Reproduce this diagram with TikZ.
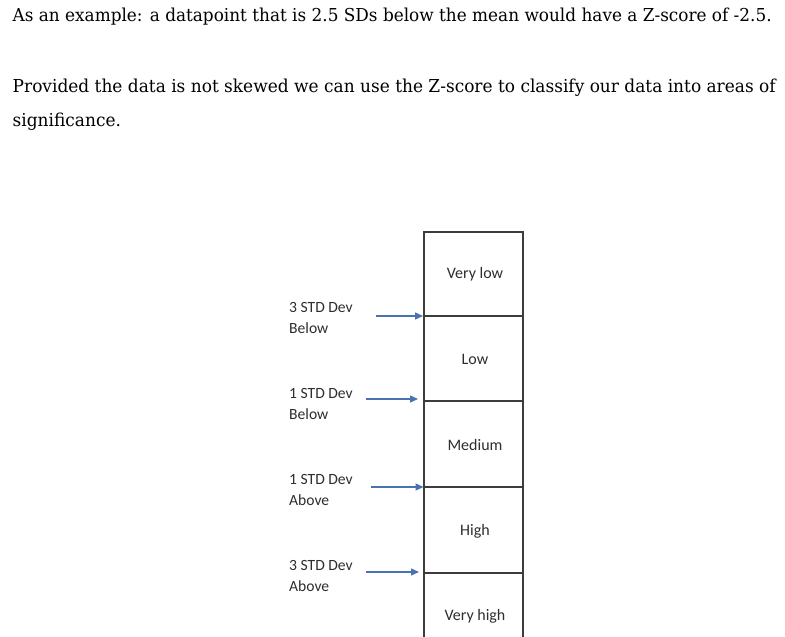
\documentclass[tikz,border=0pt]{standalone}
\usepackage{fontspec}
\usepackage{graphicx}
\setmainfont{Carlito}
\newfontfamily\topfont{DejaVu Serif}
\usetikzlibrary{arrows.meta}
\definecolor{boxline}{HTML}{3C3C3C}
\definecolor{arrowblue}{HTML}{4A72B0}
\definecolor{labelgray}{HTML}{2E2E2E}
\newlength\lineonew
\newlength\linetwow
\newcommand{\lineone}{As an example: a datapoint that is 2.5 SDs below the mean would have a Z-score of -2.5.}
\newcommand{\linetwo}{Provided the data is not skewed we can use the Z-score to classify our data into areas of}
\newcommand{\topsize}{\fontsize{17.8}{20}\selectfont}
\AtBeginDocument{%
  \settowidth\lineonew{\topfont\topsize\lineone}%
  \settowidth\linetwow{\topfont\topsize\linetwo}%
}
\tikzset{
  toptext/.style={anchor=base west, inner sep=0pt, text=black},
  devlabel/.style={anchor=base west, inner sep=0pt, align=left, text=labelgray, font=\fontsize{15.6}{20.5}\selectfont},
  celllabel/.style={inner sep=0pt, text=labelgray, font=\fontsize{16}{18}\selectfont},
  cellbox/.style={draw=boxline, line width=1.3pt},
  devarrow/.style={draw=arrowblue, line width=1.4pt, -{Triangle[length=8pt,width=7pt]}},
}
\begin{document}
\begin{tikzpicture}[x=1pt,y=-1pt]
\useasboundingbox (0,0) rectangle (785,637);
\fill[white] (0,0) rectangle (785,637);
% top text
\pgfmathsetmacro\sxone{759/\lineonew}
\pgfmathsetmacro\sxtwo{763/\linetwow}
\node[toptext] (t1) at (12.5,21) {\scalebox{\sxone}[1]{\topfont\topsize\lineone}};
\node[toptext] (t2) at (12.5,92) {\scalebox{\sxtwo}[1]{\topfont\topsize\linetwo}};
\node[toptext] (t3) at (12.5,126) {\scalebox{\sxtwo}[1]{\topfont\topsize significance.}};
% boxes
\coordinate (c0) at (424,232);
\coordinate (c1) at (424,316);
\coordinate (c2) at (424,401);
\coordinate (c3) at (424,487);
\coordinate (c4) at (424,573);
\draw[cellbox] (424,645) -- (424,232) -- (523,232) -- (523,645);
\draw[cellbox] (424,316) -- (523,316);
\draw[cellbox] (424,401) -- (523,401);
\draw[cellbox] (424,487) -- (523,487);
\draw[cellbox] (424,573) -- (523,573);
\node[celllabel] (vl) at (475,274) {Very low};
\node[celllabel] (lo) at (475,359) {Low};
\node[celllabel] (me) at (475,445) {Medium};
\node[celllabel] (hi) at (475,531) {High};
\node[celllabel] (vh) at (475,616) {Very high};
% labels
\node[devlabel] (d1) at (289,333) {3 STD Dev\\Below};
\node[devlabel] (d2) at (289,419) {1 STD Dev\\Below};
\node[devlabel] (d3) at (289,505) {1 STD Dev\\Above};
\node[devlabel] (d4) at (289,591) {3 STD Dev\\Above};
% arrows
\coordinate (a1s) at (376,316);
\coordinate (a2s) at (366,399);
\coordinate (a3s) at (371,487);
\coordinate (a4s) at (366,572);
\draw[devarrow] (a1s) -- ([xshift=-1pt]c1 |- a1s);
\draw[devarrow] (a2s) -- ([xshift=-6pt]c2 |- a2s);
\draw[devarrow] (a3s) -- ([xshift=-0.5pt]c3 |- a3s);
\draw[devarrow] (a4s) -- ([xshift=-5pt]c4 |- a4s);
\end{tikzpicture}
\end{document}
